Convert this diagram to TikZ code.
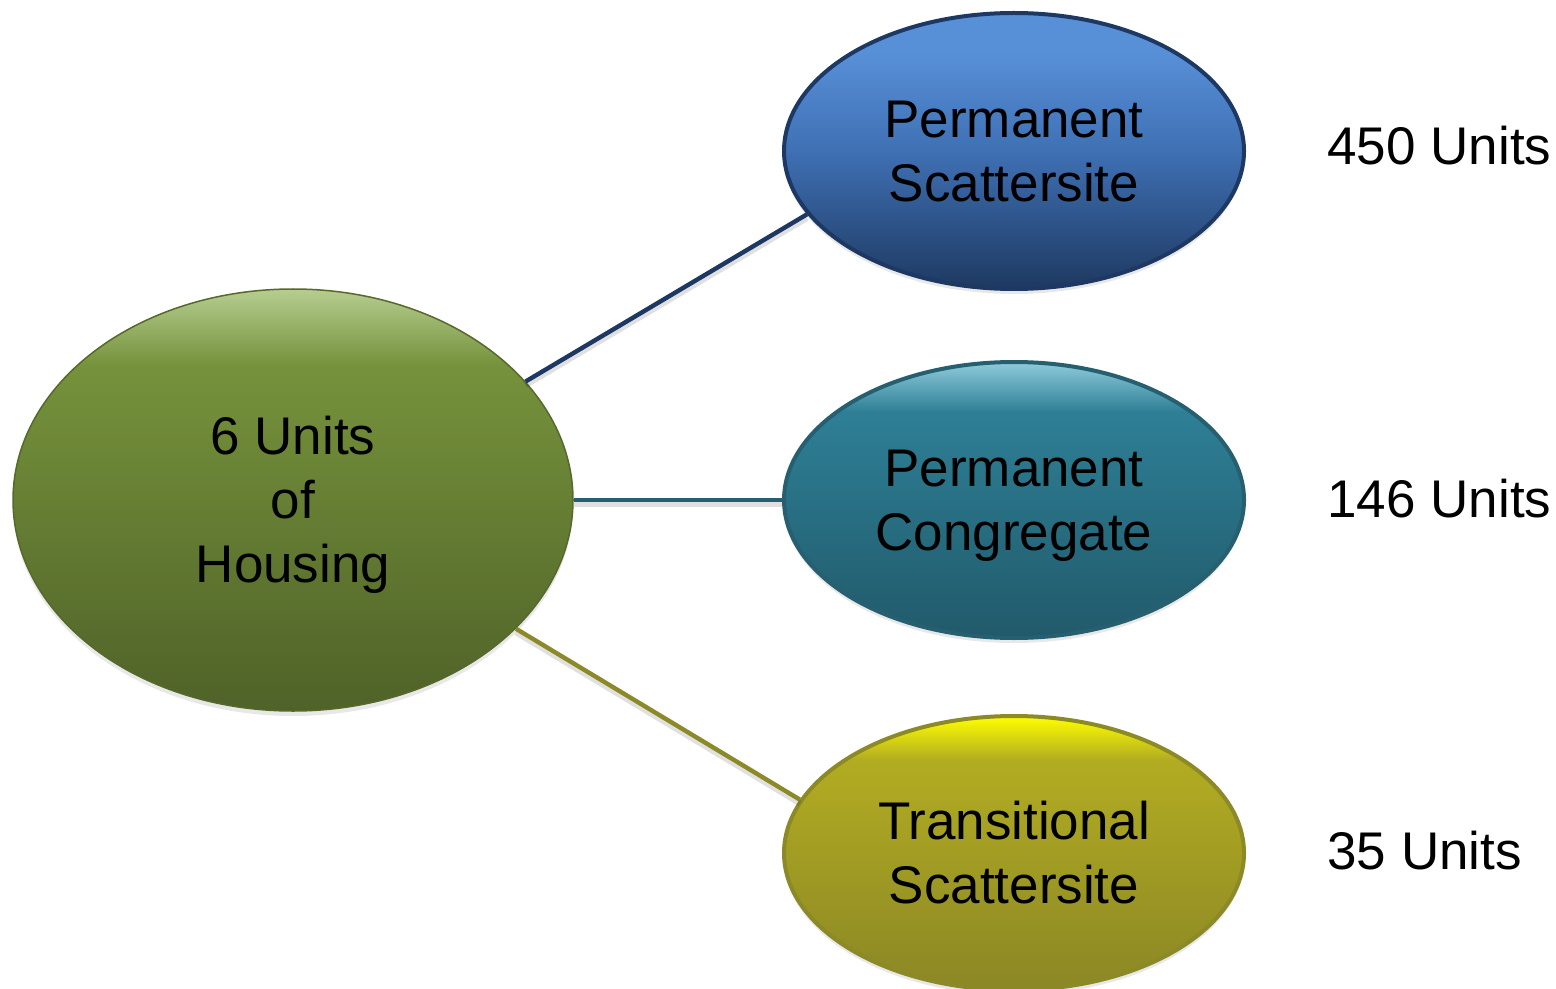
\documentclass[tikz,border=0pt]{standalone}
\usepackage{fontspec}
\setmainfont{Liberation Sans}
\usetikzlibrary{shapes.geometric,shadows}

% palette
\definecolor{grnT}{HTML}{B6CD90}
\definecolor{grnM}{HTML}{76923C}
\definecolor{grnB}{HTML}{4F6228}
\definecolor{grnLine}{HTML}{56692B}
\definecolor{bluT}{HTML}{5890D8}
\definecolor{bluM}{HTML}{3F70B4}
\definecolor{bluB}{HTML}{1E3961}
\definecolor{bluLine}{HTML}{1D3862}
\definecolor{tealT}{HTML}{8FCBDB}
\definecolor{tealM}{HTML}{2E7F96}
\definecolor{tealB}{HTML}{215A6A}
\definecolor{tealLine}{HTML}{265F70}
\definecolor{yelT}{HTML}{FFFF00}
\definecolor{yelM}{HTML}{B2AC22}
\definecolor{yelB}{HTML}{8B8725}
\definecolor{yelLine}{HTML}{8C8A27}

% vertical fills, bottom to top (25bp = bottom edge, 75bp = top edge)
\pgfdeclareverticalshading{greenfill}{100bp}{color(0bp)=(grnB); color(25bp)=(grnB); color(66bp)=(grnM); color(75bp)=(grnT); color(100bp)=(grnT)}
\pgfdeclareverticalshading{bluefill}{100bp}{color(0bp)=(bluB); color(25bp)=(bluB); color(50bp)=(bluM); color(68bp)=(bluT); color(100bp)=(bluT)}
\pgfdeclareverticalshading{tealfill}{100bp}{color(0bp)=(tealB); color(25bp)=(tealB); color(66bp)=(tealM); color(75bp)=(tealT); color(100bp)=(tealT)}
\pgfdeclareverticalshading{yellowfill}{100bp}{color(0bp)=(yelB); color(25bp)=(yelB); color(67bp)=(yelM); color(75bp)=(yelT); color(100bp)=(yelT)}

% line box of the label font: ascent and descent of one line
\newcommand{\linebox}{\rule[-5.6pt]{0pt}{29.6pt}}

\tikzset{
  bubble/.style={ellipse, inner sep=0pt, align=center,
    font=\fontsize{26.5}{32}\selectfont,
    drop shadow={opacity=0.18, shadow xshift=0pt, shadow yshift=-2.5pt}},
  hub/.style={bubble, minimum width=280pt, minimum height=211pt,
    shading=greenfill, draw=grnLine, line width=0.75pt},
  leaf/.style={bubble, minimum width=230pt, minimum height=138pt, line width=2pt},
  count/.style={anchor=west, inner sep=0pt, font=\fontsize{26.5}{32}\selectfont},
  link/.style={line width=2.2pt,
    preaction={draw=black, opacity=0.12, line width=3pt, transform canvas={yshift=-1.8pt}}}
}

\begin{document}
\begin{tikzpicture}[x=0.5pt, y=-0.5pt]
  \useasboundingbox (0,0) rectangle (1556,989);

  \node[hub] (housing) at (293,500) {\linebox 6 Units\\of\\Housing\linebox};

  \node[leaf, shading=bluefill, draw=bluLine] (pscatter) at (1014,151) {\linebox Permanent\\Scattersite\linebox};
  \node[leaf, shading=tealfill, draw=tealLine] (pcong) at (1014,500) {\linebox Permanent\\Congregate\linebox};
  \node[leaf, minimum height=137pt, shading=yellowfill, draw=yelLine] (tscatter) at (1014,853) {\linebox Transitional\\Scattersite\linebox};

  \draw[link, bluLine] (housing.27) -- (pscatter.197);
  \draw[link, tealLine] (housing.east) -- (pcong.west);
  \draw[link, yelLine] (housing.-30) -- (tscatter.166);

  \node[count] (c1) at (1327,146) {450 Units};
  \node[count] (c2) at (1327,499) {146 Units};
  \node[count] (c3) at (1327,851) {35 Units};
\end{tikzpicture}
\end{document}
